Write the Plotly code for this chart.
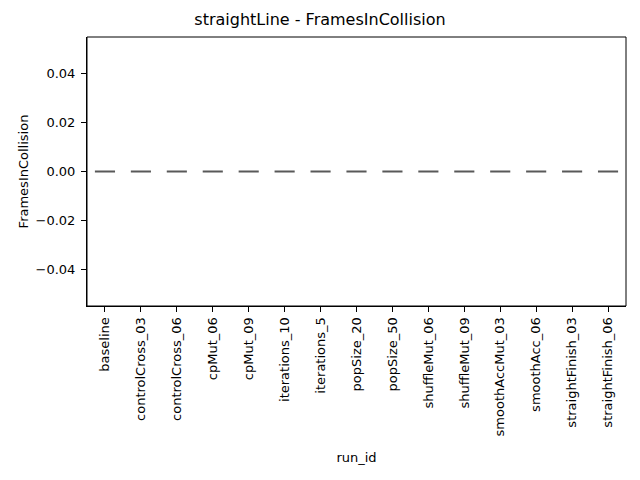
import plotly.graph_objects as go

run_ids = ["baseline", "controlCross_03", "controlCross_06", "cpMut_06", "cpMut_09",
           "iterations_10", "iterations_5", "popSize_20", "popSize_50", "shuffleMut_06",
           "shuffleMut_09", "smoothAccMut_03", "smoothAcc_06", "straightFinish_03",
           "straightFinish_06"]
# every run had zero frames in collision
frames_in_collision = {r: [0, 0, 0, 0, 0] for r in run_ids}

xs = []
ys = []
for r in run_ids:
    xs += [r] * len(frames_in_collision[r])
    ys += frames_in_collision[r]

fig = go.Figure()
fig.add_trace(go.Box(x=xs, y=ys, boxpoints=False, line=dict(color="#595959", width=2),
                     fillcolor="#595959", showlegend=False, hoverinfo="skip"))

font = "DejaVu Sans, sans-serif"
fig.update_layout(
    width=640, height=480,
    margin=dict(l=87, r=14, t=37, b=174, autoexpand=False),
    paper_bgcolor="white", plot_bgcolor="white",
    boxgap=0.2,
    font=dict(family=font, size=13, color="black"),
    title=dict(text="straightLine - FramesInCollision", x=0.5, xanchor="center",
               y=1 - 19 / 480, yanchor="middle", font=dict(size=16)),
)
# frame around the axes (all four spines)
fig.add_shape(type="rect", xref="paper", yref="paper", x0=0, x1=1, y0=0, y1=1,
              line=dict(color="black", width=1), layer="above")
fig.update_xaxes(title=dict(text="run_id", standoff=17, font=dict(size=13)), tickangle=-90,
                 tickfont=dict(size=13), automargin=False,
                 showline=True, linecolor="black", linewidth=1,
                 ticks="outside", ticklen=5, tickcolor="black", showgrid=False)
fig.update_yaxes(title=dict(text="FramesInCollision", standoff=4, font=dict(size=13)),
                 range=[-0.055, 0.055], tickfont=dict(size=13), automargin=False,
                 tickvals=[-0.04, -0.02, 0, 0.02, 0.04], tickformat=".2f", ticklabelstandoff=3,
                 showline=True, linecolor="black", linewidth=1,
                 ticks="outside", ticklen=5, tickcolor="black", showgrid=False, zeroline=False)
# drop the page's default body margin so the figure sits at the window corner
fig.write_html("out.html", config={"displayModeBar": False},
               post_script="document.body.style.margin='0';")
